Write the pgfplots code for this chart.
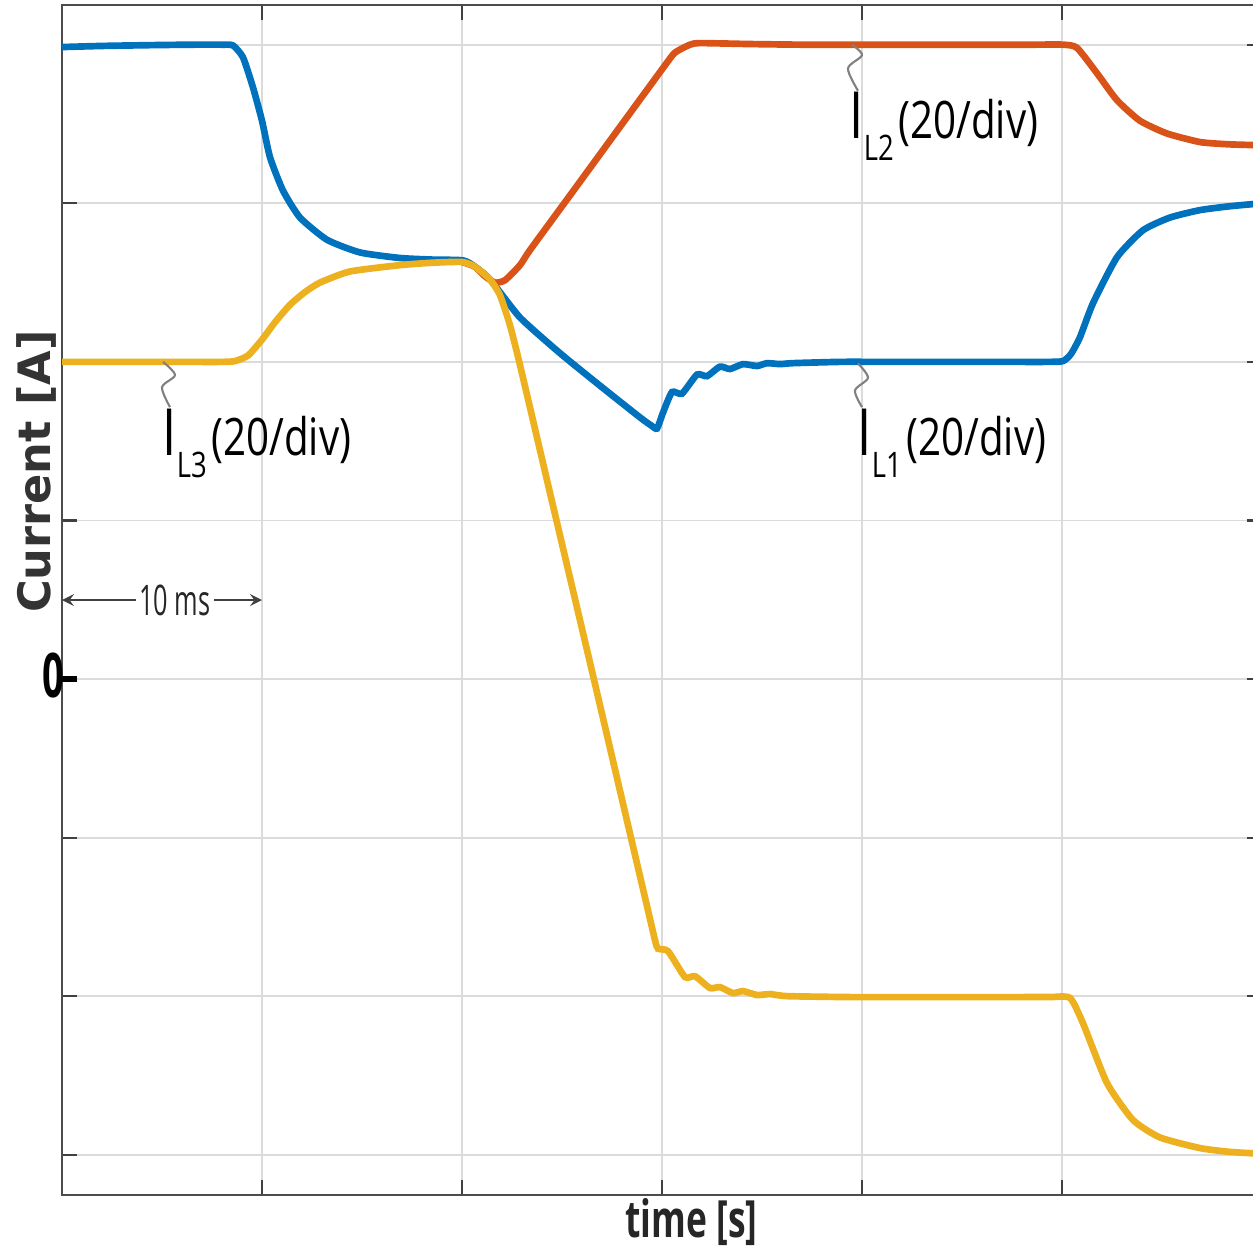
\documentclass[border=0pt]{standalone}
\usepackage{fontspec}
\setmainfont{Open Sans}
\newfontfamily\labfont{DejaVu Sans}
\usepackage{pgfplots}
\pgfplotsset{compat=1.18}
\definecolor{mblue}{RGB}{0,114,189}
\definecolor{mred}{RGB}{217,83,25}
\definecolor{myellow}{RGB}{237,177,32}
\newcommand{\ann}[1]{\scalebox{0.78}[1]{{\fontsize{18.5}{20}\selectfont I}\raisebox{-0.22cm}{\fontsize{10}{11}\selectfont L#1}\hspace{0.06cm}{\fontsize{14.7}{16}\selectfont (20/div)}}}
\newcommand{\zerolab}{\mbox{\scalebox{0.62}[1]{\bfseries\fontsize{17.5}{18}\selectfont 0}}}
\begin{document}
\begin{tikzpicture}
\begin{axis}[
  at={(0.62cm,-11.95cm)}, anchor=south west,
  width=12.0cm, height=11.90cm, scale only axis,
  xmin=0, xmax=60, ymin=-3.253, ymax=4.25,
  xtick={0,10,...,60}, ytick={-3,...,4},
  xticklabels={}, yticklabels={},
  grid=major, major grid style={gray!28, line width=0.5pt},
  axis line style={black!70, line width=0.6pt},
  tick style={black!75, line width=0.6pt},
  major tick length=0.15cm, tick align=inside,
  extra y ticks={0}, extra y tick labels={\zerolab},
  extra y tick style={grid=none, ytick pos=left, tick style={black, line width=1.6pt},
    yticklabel style={inner sep=0pt, anchor=east, xshift=0.03cm, yshift=0.04cm}},
  xlabel={\scalebox{0.69}[1]{\bfseries\fontsize{14.6}{16}\selectfont time [s]}},
  xlabel style={at={(axis description cs:0.5245,-0.0227)}, anchor=center, text=black!85},
  ylabel={\labfont\bfseries\fontsize{12.7}{14}\selectfont Current [A]},
  ylabel style={at={(axis description cs:-0.021,0.608)}, anchor=center, rotate=0, text=black!80},
  clip=true,
]
% I_L1 (blue)
\addplot[mblue, line width=1.9pt, smooth, tension=0.35] coordinates {
(0,3.985) (2,3.992) (4.4,3.997) (6.5,4.0) (8.0,4.0) (8.55,3.995) (9.05,3.92) (9.55,3.73) (10.0,3.52) (10.4,3.29)
(11.05,3.08) (11.9,2.91) (13.25,2.77) (14.9,2.69) (16.9,2.655) (18.5,2.645) (20.05,2.64)
(20.65,2.60) (21.4,2.52) (22.9,2.28) (24.9,2.055) (26.9,1.85) (28.9,1.65) (29.45,1.60) (29.75,1.58)
(30.05,1.68) (30.5,1.81) (31.0,1.80) (31.75,1.92) (32.25,1.91) (32.9,1.97) (33.4,1.955)
(34.05,1.986) (34.75,1.974) (35.25,1.992) (35.9,1.986) (36.55,1.992) (38.9,2.0)
(41,2.0) (44,2.0) (47,2.0) (49.3,2.0) (50.05,2.005) (50.45,2.05) (50.9,2.156) (51.55,2.37) (52.75,2.66) (54.05,2.83) (55.4,2.91) (56.9,2.957) (58.3,2.98) (59.55,2.995) (60,2.997)
};
% I_L2 (red)
\addplot[mred, line width=1.9pt, smooth, tension=0.35] coordinates {
(20.0,2.63) (20.65,2.60) (21.15,2.54) (21.65,2.50) (22.15,2.515) (22.9,2.61) (23.4,2.705)
(25.5,3.067) (28,3.499) (30.15,3.87) (30.65,3.95) (31.4,4.0) (31.9,4.01) (34.4,4.004) (37,4.0) (40,4.0) (43,4.0) (46,4.0) (48.5,4.0) (50.05,4.0)
(50.75,3.98) (51.75,3.82) (52.75,3.65) (53.9,3.52) (55.25,3.44) (56.9,3.386) (58.3,3.372) (59.55,3.367) (60,3.365)
};
% I_L3 (yellow)
\addplot[myellow, line width=1.9pt, smooth, tension=0.35] coordinates {
(0,2.0) (3,2.0) (6,2.0) (8.0,2.0) (8.65,2.005) (9.3,2.04) (10.0,2.14) (10.65,2.25) (11.4,2.36) (12.15,2.44) (12.9,2.50)
(14.4,2.57) (16.9,2.61) (18.5,2.625) (20.0,2.63) (20.65,2.60) (21.4,2.52) (21.9,2.42) (22.4,2.23) (22.9,1.98)
(24.5,1.12) (26.5,0.05) (28.3,-0.92) (29.2,-1.404) (29.65,-1.646) (29.8,-1.70) (30.3,-1.715) (31.15,-1.879) (31.65,-1.873) (32.4,-1.948)
(32.9,-1.942) (33.55,-1.98) (34.05,-1.967) (34.75,-1.992) (35.4,-1.986) (36.25,-1.999)
(39.4,-2.005) (42,-2.005) (45,-2.005) (48,-2.005) (49.4,-2.005) (50.4,-2.01) (51.05,-2.17) (52.25,-2.547) (53.55,-2.78)
(54.9,-2.89) (56.9,-2.957) (58.3,-2.98) (59.55,-2.99) (60,-2.992)
};
% leader squiggles
\draw[gray, line width=0.6pt] plot[smooth] coordinates {(axis cs:5.05,2.0) (axis cs:5.65,1.917) (axis cs:5.0,1.84) (axis cs:5.4,1.715)};
\draw[gray, line width=0.6pt] plot[smooth] coordinates {(axis cs:39.5,4.0) (axis cs:40.0,3.934) (axis cs:39.3,3.85) (axis cs:39.8,3.71)};
\draw[gray, line width=0.6pt] plot[smooth] coordinates {(axis cs:39.8,1.99) (axis cs:40.3,1.90) (axis cs:39.65,1.82) (axis cs:40.0,1.715)};
% labels
\node[anchor=base west, inner sep=0pt] at (axis cs:5.0,1.41) {\ann{3}};
\node[anchor=base west, inner sep=0pt] at (axis cs:39.35,3.41) {\ann{2}};
\node[anchor=base west, inner sep=0pt] at (axis cs:39.75,1.41) {\ann{1}};
% 10 ms arrow
\draw[<->, >=stealth, black!75, line width=0.5pt] (axis cs:0,0.498) -- (axis cs:10,0.498);
\node[fill=white, inner sep=1pt, text=black!85] at (axis cs:5.65,0.498) {\scalebox{0.6}[1]{\fontsize{12}{13}\selectfont 10 ms}};
\end{axis}
\pgfresetboundingbox
\path[use as bounding box] (0,0) rectangle (12.53cm,-12.52cm);
\end{tikzpicture}
\end{document}
